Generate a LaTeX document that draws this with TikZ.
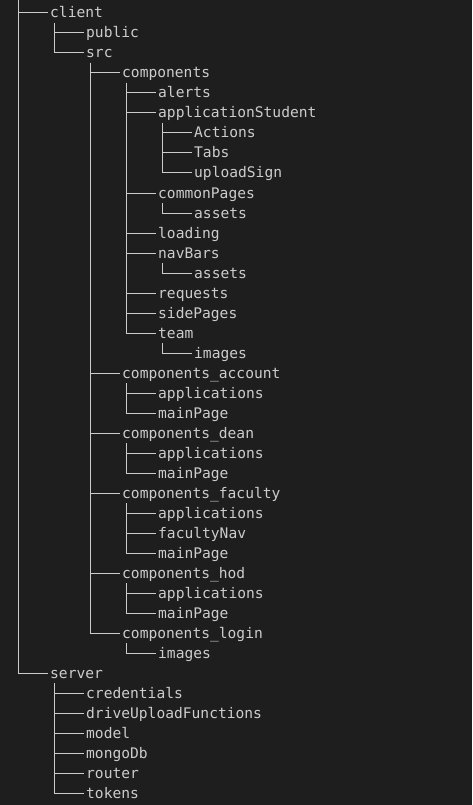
\documentclass[tikz,border=0pt]{standalone}
\usepackage{fontspec}
\newfontfamily\monof{DejaVu Sans Mono}
\definecolor{bg}{HTML}{1E1E1E}
\definecolor{fg}{HTML}{CCCCCC}
\begin{document}
\begin{tikzpicture}[x=1pt,y=-1pt,
  item/.style={anchor=west, inner xsep=2pt, inner ysep=0pt, text height=10pt, text depth=0pt,
    font=\monof\fontsize{14.6}{18}\selectfont, text=fg},
  branch/.style={draw=fg, line width=1pt}]
\fill[bg] (0,0) rectangle (472,805);
\useasboundingbox (0,0) rectangle (472,805);
\coordinate (root) at (18,0);
% level 0
\node[item] (client) at (48,13) {client};
\node[item] (server) at (48,673) {server};
% client
\node[item] (public) at (84,33) {public};
\node[item] (src) at (84,53) {src};
% src
\node[item] (comp) at (120,73) {components};
\node[item] (acc) at (120,373) {components\_account};
\node[item] (dean) at (120,433) {components\_dean};
\node[item] (fac) at (120,493) {components\_faculty};
\node[item] (hod) at (120,573) {components\_hod};
\node[item] (login) at (120,633) {components\_login};
% components
\node[item] (alerts) at (156,93) {alerts};
\node[item] (appst) at (156,113) {applicationStudent};
\node[item] (common) at (156,193) {commonPages};
\node[item] (loading) at (156,233) {loading};
\node[item] (nav) at (156,253) {navBars};
\node[item] (req) at (156,293) {requests};
\node[item] (side) at (156,313) {sidePages};
\node[item] (team) at (156,333) {team};
% level 4
\node[item] (actions) at (192,133) {Actions};
\node[item] (tabs) at (192,153) {Tabs};
\node[item] (upload) at (192,173) {uploadSign};
\node[item] (cassets) at (192,213) {assets};
\node[item] (nassets) at (192,273) {assets};
\node[item] (timages) at (192,353) {images};
% sub-folders of the other component folders
\node[item] (accapp) at (156,393) {applications};
\node[item] (accmain) at (156,413) {mainPage};
\node[item] (deanapp) at (156,453) {applications};
\node[item] (deanmain) at (156,473) {mainPage};
\node[item] (facapp) at (156,513) {applications};
\node[item] (facnav) at (156,533) {facultyNav};
\node[item] (facmain) at (156,553) {mainPage};
\node[item] (hodapp) at (156,593) {applications};
\node[item] (hodmain) at (156,613) {mainPage};
\node[item] (limages) at (156,653) {images};
% server
\node[item] (cred) at (84,693) {credentials};
\node[item] (drive) at (84,713) {driveUploadFunctions};
\node[item] (model) at (84,733) {model};
\node[item] (mongo) at (84,753) {mongoDb};
\node[item] (router) at (84,773) {router};
\node[item] (tokens) at (84,793) {tokens};
% connectors
\foreach \c in {client,server} \draw[branch] (root) |- (\c.west);
\foreach \p/\c in {client/public, client/src,
  src/comp, src/acc, src/dean, src/fac, src/hod, src/login,
  comp/alerts, comp/appst, comp/common, comp/loading, comp/nav, comp/req, comp/side, comp/team,
  appst/actions, appst/tabs, appst/upload, common/cassets, nav/nassets, team/timages,
  acc/accapp, acc/accmain, dean/deanapp, dean/deanmain,
  fac/facapp, fac/facnav, fac/facmain, hod/hodapp, hod/hodmain, login/limages,
  server/cred, server/drive, server/model, server/mongo, server/router, server/tokens}
  \draw[branch] ([shift={(6pt,-10pt)}]\p.west) |- (\c.west);
\end{tikzpicture}
\end{document}
